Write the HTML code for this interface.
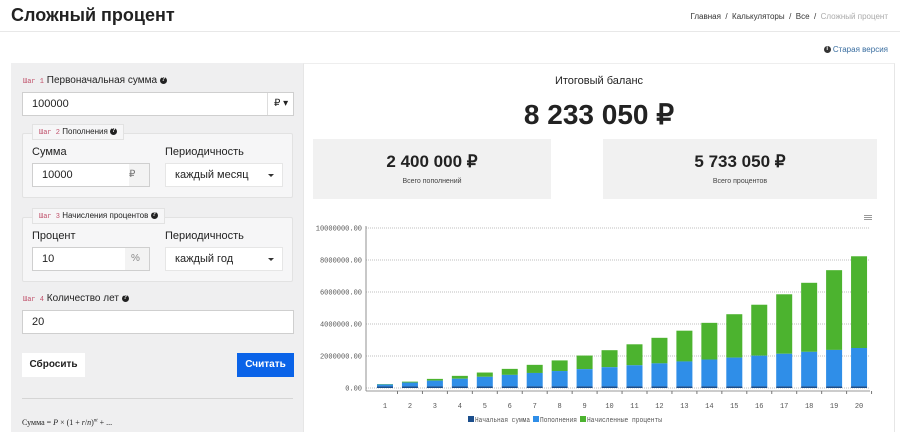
<!DOCTYPE html>
<html><head><meta charset="utf-8"><style>
*{box-sizing:border-box;margin:0;padding:0}
body{width:900px;height:432px;overflow:hidden;background:#fff;font-family:"Liberation Sans",Arial,sans-serif;color:#222;position:relative}
.a{position:absolute}
.inp{position:absolute;background:#fff;border:1px solid #cfcfcf;font-size:11px;padding-left:9px;display:flex;align-items:center}
.step{font-family:"Liberation Mono",monospace;font-size:7px;color:#c0506a}
.fs{position:absolute;border:1px solid #e2e2e2;background:#f6f6f7;border-radius:2px}
.lg{position:absolute;background:#f6f6f7;border:1px solid #e2e2e2;font-size:8px;padding:2px 6px;white-space:nowrap}
.q{display:inline-block;width:7px;height:7px;border-radius:50%;background:#222;color:#fff;font-size:6px;line-height:7px;text-align:center;font-weight:bold;vertical-align:middle}
.lbl{position:absolute;font-size:11px}
.arr{position:absolute;right:8px;top:10px;border-left:3px solid transparent;border-right:3px solid transparent;border-top:3px solid #333}
</style></head><body>
<div class="a" style="left:11px;top:5px;font-size:18px;font-weight:bold">Сложный процент</div>
<div class="a" style="right:12px;top:12px;font-size:8px;color:#333">Главная &nbsp;/&nbsp; Калькуляторы &nbsp;/&nbsp; Все &nbsp;/&nbsp; <span style="color:#aaa">Сложный процент</span></div>
<div class="a" style="left:0;top:31px;width:900px;height:1px;background:#e8e8e8"></div>
<div class="a" style="right:12px;top:45px;font-size:8px;color:#3a6ea0"><span class="q" style="background:#333">i</span> Старая версия</div>

<div class="a" style="left:11px;top:63px;width:292px;height:369px;background:#efeff0"></div>
<div class="a" style="left:303px;top:63px;width:592px;height:369px;border-left:1px solid #e6e6e6;border-right:1px solid #e6e6e6;border-top:1px solid #eee"></div>

<div class="a" style="left:23px;top:75px;font-size:10px"><span class="step">Шаг 1</span> Первоначальная сумма <span class="q">?</span></div>
<div class="inp" style="left:22px;top:92px;width:272px;height:24px">100000</div>
<div class="a" style="left:267px;top:93px;width:26px;height:22px;border-left:1px solid #ddd;font-size:10px;padding:5px 0 0 6px">₽ ▾</div>

<div class="fs" style="left:22px;top:133px;width:271px;height:65px"></div>
<div class="lg" style="left:32px;top:124px"><span class="step">Шаг 2</span> Пополнения <span class="q">?</span></div>
<div class="lbl" style="left:32px;top:146px">Сумма</div>
<div class="lbl" style="left:165px;top:146px">Периодичность</div>
<div class="inp" style="left:32px;top:163px;width:118px;height:24px">10000<span style="position:absolute;right:0;top:0;width:20px;height:22px;background:#f3f3f3;font-size:10px;color:#777;padding-top:5px">₽</span></div>
<div class="inp" style="left:165px;top:163px;width:118px;height:24px;border-color:#e6e6e6">каждый месяц<div class="arr"></div></div>

<div class="fs" style="left:22px;top:217px;width:271px;height:65px"></div>
<div class="lg" style="left:32px;top:208px"><span class="step">Шаг 3</span> Начисления процентов <span class="q">?</span></div>
<div class="lbl" style="left:32px;top:230px">Процент</div>
<div class="lbl" style="left:165px;top:230px">Периодичность</div>
<div class="inp" style="left:32px;top:247px;width:118px;height:24px">10<span style="position:absolute;right:0;top:0;width:24px;height:22px;background:#f3f3f3;font-size:10px;color:#888;padding:5px 0 0 6px">%</span></div>
<div class="inp" style="left:165px;top:247px;width:118px;height:24px;border-color:#e6e6e6">каждый год<div class="arr"></div></div>

<div class="a" style="left:23px;top:293px;font-size:10px"><span class="step">Шаг 4</span> Количество лет <span class="q">?</span></div>
<div class="inp" style="left:22px;top:310px;width:272px;height:24px">20</div>

<div class="a" style="left:22px;top:353px;width:63px;height:24px;background:#fff;font-size:10px;font-weight:bold;text-align:center;line-height:24px">Сбросить</div>
<div class="a" style="left:237px;top:353px;width:57px;height:24px;background:#0a63e8;color:#fff;font-size:10px;font-weight:bold;text-align:center;line-height:24px">Считать</div>
<div class="a" style="left:22px;top:398px;width:271px;height:1px;background:#d5d5d5"></div>
<div class="a" style="left:22px;top:418px;font-family:'Liberation Serif',serif;font-size:8px">Сумма = <i>P</i> × (1 + <i>r</i>/<i>n</i>)<sup style="font-size:5px"><i>nt</i></sup> + ...</div>

<div class="a" style="left:303px;top:75px;width:592px;text-align:center;font-size:11px">Итоговый баланс</div>
<div class="a" style="left:303px;top:98px;width:592px;text-align:center;font-size:28px;font-weight:bold">8 233 050 ₽</div>
<div class="a" style="left:313px;top:139px;width:238px;height:60px;background:#f1f1f1;text-align:center">
<div style="font-size:17px;font-weight:bold;margin-top:13px">2 400 000 ₽</div><div style="font-size:7px;margin-top:6px;color:#444">Всего пополнений</div></div>
<div class="a" style="left:603px;top:139px;width:274px;height:60px;background:#f1f1f1;text-align:center">
<div style="font-size:17px;font-weight:bold;margin-top:13px">5 733 050 ₽</div><div style="font-size:7px;margin-top:6px;color:#444">Всего процентов</div></div>
<div class="a" style="left:864px;top:215px;width:8px;height:1px;background:#999;box-shadow:0 2px 0 #999,0 4px 0 #999"></div>

<svg class="a" style="left:0;top:0" width="900" height="432" id="s"></svg>
<script>
var s='',f='font-family="Liberation Mono,monospace" font-size="7" fill="#555"';
var lab=['0.00','2000000.00','4000000.00','6000000.00','8000000.00','10000000.00'];
for(var i=0;i<6;i++){var y=388-32*i;s+='<line x1="366" x2="870" y1="'+y+'" y2="'+y+'" stroke="#aaa" stroke-width="0.7" stroke-dasharray="1,1"/><text x="362" y="'+(y+2.5)+'" text-anchor="end" '+f+'>'+lab[i]+'</text>';}
s+='<line x1="366" x2="366" y1="226" y2="391" stroke="#777" stroke-width="0.8"/><line x1="366" x2="870" y1="391" y2="391" stroke="#777" stroke-width="0.8"/>';
var B=100000,k=16/1e6;
for(var n=1;n<=20;n++){B=(B+120000)*1.1;var cx=385+(n-1)*24.95,x=cx-8,c=120000*n;
var y0=388,h1=100000*k,h2=c*k,h3=(B-100000-c)*k;
s+='<rect x="'+x+'" y="'+(y0-h1-h2-h3)+'" width="16" height="'+h3+'" fill="#4cb32f"/>';
s+='<rect x="'+x+'" y="'+(y0-h1-h2)+'" width="16" height="'+h2+'" fill="#2f8ee8"/>';
s+='<rect x="'+x+'" y="'+(y0-h1)+'" width="16" height="'+h1+'" fill="#1b4e8c"/>';
s+='<line x1="'+(cx+12.5)+'" x2="'+(cx+12.5)+'" y1="391" y2="394" stroke="#777"/>';
s+='<text x="'+cx+'" y="408" text-anchor="middle" '+f+'>'+n+'</text>';}
s+='<rect x="468" y="416" width="6" height="6" fill="#1b4e8c"/><text x="475" y="422" textLength="55" lengthAdjust="spacingAndGlyphs" '+f+'>Начальная сумма</text>';
s+='<rect x="533" y="416" width="6" height="6" fill="#2f8ee8"/><text x="540" y="422" textLength="37" lengthAdjust="spacingAndGlyphs" '+f+'>Пополнения</text>';
s+='<rect x="580" y="416" width="6" height="6" fill="#4cb32f"/><text x="587" y="422" textLength="75" lengthAdjust="spacingAndGlyphs" '+f+'>Начисленные проценты</text>';
document.getElementById('s').innerHTML=s;
</script>
</body></html>
